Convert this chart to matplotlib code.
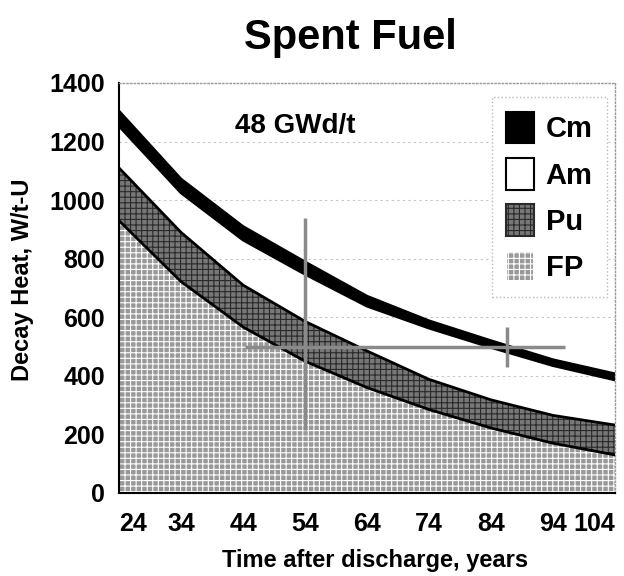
import numpy as np
import matplotlib
matplotlib.use('Agg')
import matplotlib.pyplot as plt
from matplotlib.patches import Patch

plt.rcParams['font.family'] = ['Liberation Sans', 'DejaVu Sans']
plt.rcParams['font.weight'] = 'bold'
plt.rcParams['hatch.linewidth'] = 0.8

# decay heat contributions, W/t-U (48 GWd/t)
years = [24, 34, 44, 54, 64, 74, 84, 94, 104]
fp = [930, 722, 567, 450, 360, 285, 222, 170, 130]
pu = [180, 168, 143, 136, 125, 103, 96, 95, 102]
am = [143, 135, 154, 161, 153, 175, 179, 170, 154]
cm = [51, 47, 46, 42, 34, 25, 23, 20, 21]

labels = ['Cm', 'Am', 'Pu', 'FP']
y_ticks = [0, 200, 400, 600, 800, 1000, 1200, 1400]

# crosshair marks left on the scanned chart
cross_v_x = [54, 54]
cross_v_y = [215, 940]
cross_h_x = [44.3, 96]
cross_h_y = [500, 500]
cross2_x = [86.6, 86.6]
cross2_y = [430, 567]

FP_FACE, FP_HATCH = '#999999', 'white'
PU_FACE, PU_HATCH = '#777777', '#2a2a2a'

x = np.array(years)
fp_top = np.array(fp)
pu_top = fp_top + np.array(pu)
am_top = pu_top + np.array(am)
cm_top = am_top + np.array(cm)

fig = plt.figure(figsize=(6.24, 5.76), dpi=100)
ax = fig.add_axes([119 / 624, 1 - 493 / 576, 496 / 624, 410 / 576])

for v in y_ticks[1:-1]:
    ax.axhline(v, color='#c4c4c4', lw=0.8, ls=(0, (2, 3)), zorder=0)

ax.fill_between(x, 0, fp_top, facecolor=FP_FACE, edgecolor=FP_HATCH,
                hatch='+++', linewidth=0, zorder=1)
ax.fill_between(x, fp_top, pu_top, facecolor=PU_FACE, edgecolor=PU_HATCH,
                hatch='+++', linewidth=0, zorder=1)
ax.fill_between(x, am_top, cm_top, facecolor='black', linewidth=0, zorder=2)

for top in (fp_top, pu_top, am_top, cm_top):
    ax.plot(x, top, color='black', lw=2, zorder=3)

for cx, cy in ((cross_v_x, cross_v_y), (cross_h_x, cross_h_y), (cross2_x, cross2_y)):
    ax.plot(cx, cy, color='#8a8a8a', lw=2.5, zorder=4, solid_capstyle='butt')

ax.text(52.5, 1253, '48 GWd/t', fontsize=20, fontweight='bold',
        ha='center', va='center')

handles = [
    Patch(facecolor='black'),
    Patch(facecolor='white'),
    Patch(facecolor=PU_FACE, hatch='+++'),
    Patch(facecolor=FP_FACE, hatch='+++'),
]
leg = ax.legend(handles, labels, loc='upper right', bbox_to_anchor=(0.984, 0.966),
                borderaxespad=0, fontsize=21, handlelength=0.95, handleheight=1.3,
                labelspacing=0.5, handletextpad=0.4, borderpad=0.5,
                fancybox=False, framealpha=1)
leg.get_frame().set_edgecolor('#bbbbbb')
leg.get_frame().set_linestyle(':')
leg.get_frame().set_linewidth(1)
for h, ec in zip(leg.legend_handles, ['black', 'black', PU_HATCH, FP_HATCH]):
    h.set_edgecolor(ec)
    h.set_linewidth(1.5)

ax.set_xlim(24, 104)
ax.set_ylim(0, 1400)
ax.set_xticks(years)
ax.set_xticklabels([str(y) for y in years], fontsize=18, fontweight='bold')
ax.set_yticks(y_ticks)
ax.set_yticklabels([str(v) for v in y_ticks], fontsize=18, fontweight='bold')
ax.tick_params(axis='x', length=0, pad=14)
ax.tick_params(axis='y', length=0, pad=10)
xt = ax.get_xticklabels()
xt[0].set_ha('left')
xt[-1].set_ha('right')

for side in ('top', 'right'):
    ax.spines[side].set_color('#999999')
    ax.spines[side].set_linestyle(':')
    ax.spines[side].set_linewidth(1)
for side in ('left', 'bottom'):
    ax.spines[side].set_color('black')
    ax.spines[side].set_linewidth(1.5)

fig.text(350 / 624, 1 - 38 / 576, 'Spent Fuel', fontsize=30, fontweight='bold',
         ha='center', va='center')
fig.text(375 / 624, 1 - 560 / 576, 'Time after discharge, years', fontsize=17,
         fontweight='bold', ha='center', va='center')
fig.text(23 / 624, 1 - 280 / 576, 'Decay Heat, W/t-U', fontsize=17,
         fontweight='bold', ha='center', va='center', rotation=90)

fig.savefig('out.png', dpi=100)
